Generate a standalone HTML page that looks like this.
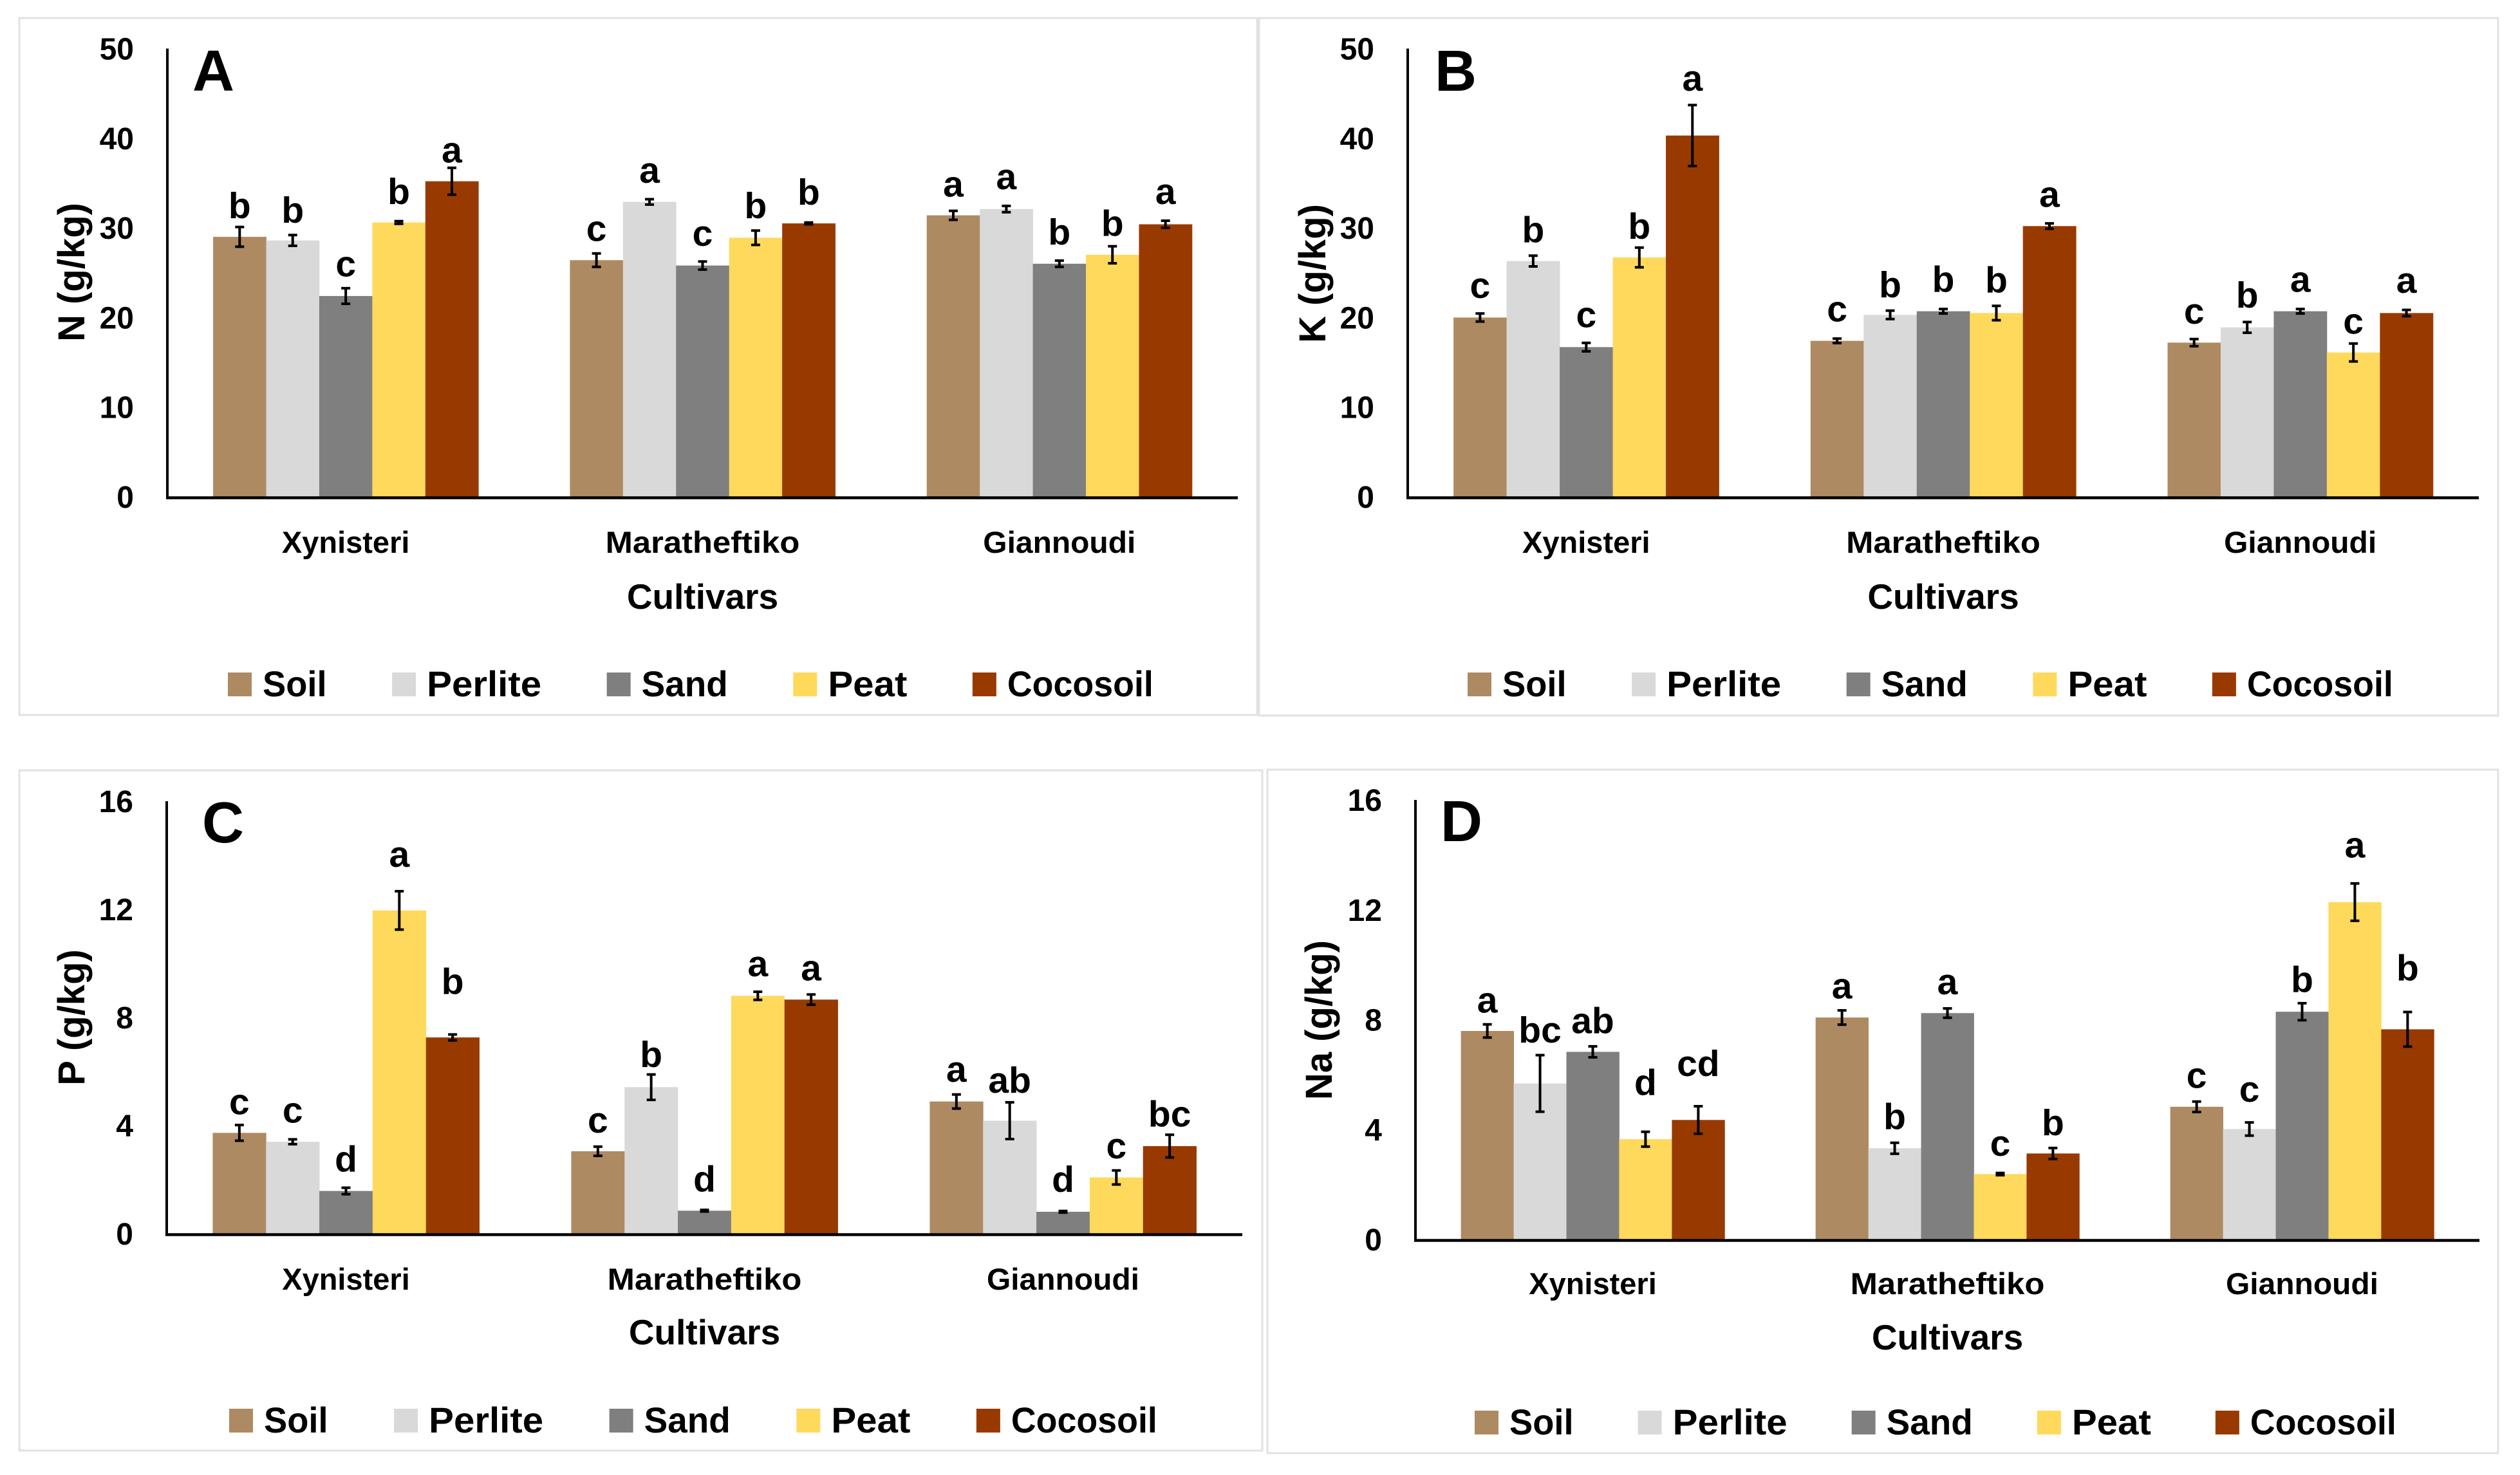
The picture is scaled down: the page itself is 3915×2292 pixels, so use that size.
<!DOCTYPE html>
<html lang="en">
<head>
<meta charset="utf-8">
<title>Mineral content by cultivar and substrate</title>
<style>
  html, body { margin: 0; padding: 0; background: #ffffff; }
  body { width: 3915px; height: 2292px; overflow: hidden; }
  svg { display: block; }
  text { font-family: "Liberation Sans", sans-serif; font-weight: 700; fill: #000; }
</style>
</head>
<body>
<svg id="figure" xmlns="http://www.w3.org/2000/svg" width="3915" height="2292" viewBox="0 0 3915 2292"></svg>
<script>
const categories = ['Xynisteri', 'Maratheftiko', 'Giannoudi'];
const substrates = ['Soil', 'Perlite', 'Sand', 'Peat', 'Cocosoil'];

const ticksNK = [0, 10, 20, 30, 40, 50];
const ticksPNa = [0, 4, 8, 12, 16];

const nMeans = [[29, 28.6, 22.4, 30.6, 35.2], [26.4, 32.9, 25.8, 28.9, 30.5], [31.4, 32.1, 26, 27, 30.4]];
const nErrors = [[1.1, 0.6, 0.87, 0.15, 1.5], [0.75, 0.3, 0.45, 0.8, 0.1], [0.5, 0.35, 0.35, 0.95, 0.4]];
const nLetters = [['b', 'b', 'c', 'b', 'a'], ['c', 'a', 'c', 'b', 'b'], ['a', 'a', 'b', 'b', 'a']];
const nLetterLift = [[1, 1.37, 1.3, 1.9, 0.58], [1.4, 1.85, 1.75, 1.4, 2], [1.6, 1.85, 1.8, 1.15, 1.85]];

const kMeans = [[20, 26.3, 16.7, 26.7, 40.3], [17.4, 20.3, 20.7, 20.5, 30.2], [17.2, 18.9, 20.7, 16.1, 20.5]];
const kErrors = [[0.45, 0.6, 0.47, 1.1, 3.4], [0.25, 0.47, 0.25, 0.8, 0.3], [0.4, 0.6, 0.25, 1, 0.35]];
const kLetters = [['c', 'b', 'c', 'b', 'a'], ['c', 'b', 'b', 'b', 'a'], ['c', 'b', 'a', 'c', 'a']];
const kLetterLift = [[1.75, 1.5, 1.75, 1, 1.6], [1.9, 1.5, 1.9, 1.5, 1.85], [1.7, 1.6, 1.9, 1.1, 1.9]];

const pMeans = [[3.73, 3.4, 1.58, 11.96, 7.26], [3.05, 5.42, 0.85, 8.8, 8.66], [4.89, 4.18, 0.81, 2.08, 3.24]];
const pErrors = [[0.29, 0.09, 0.12, 0.71, 0.11], [0.17, 0.47, 0.03, 0.15, 0.19], [0.26, 0.68, 0.03, 0.26, 0.42]];
const pLetters = [['c', 'c', 'd', 'a', 'b'], ['c', 'b', 'd', 'a', 'a'], ['a', 'ab', 'd', 'c', 'bc']];
const pLetterLift = [[0.4, 0.62, 0.6, 0.9, 1.5], [0.52, 0.28, 0.68, 0.57, 0.52], [0.47, 0.35, 0.71, 0.45, 0.3]];

const naMeans = [[7.59, 5.68, 6.83, 3.65, 4.35], [8.08, 3.32, 8.24, 2.38, 3.13], [4.83, 4.02, 8.29, 12.28, 7.65]];
const naErrors = [[0.24, 1.03, 0.2, 0.27, 0.5], [0.26, 0.2, 0.17, 0.04, 0.2], [0.19, 0.24, 0.31, 0.68, 0.63]];
const naLetters = [['a', 'bc', 'ab', 'd', 'cd'], ['a', 'b', 'a', 'c', 'b'], ['c', 'c', 'b', 'a', 'b']];
const naLetterLift = [[0.43, 0.46, 0.48, 1.34, 1.1], [0.43, 0.5, 0.51, 0.62, 0.46], [0.5, 0.75, 0.41, 0.94, 1.15]];

const substrateColors = ['#AE8A62', '#D9D9D9', '#7F7F7F', '#FFD95C', '#983A00'];

const SVG_NS = 'http://www.w3.org/2000/svg';
const svg = document.getElementById('figure');

function make(tag, parent, attrs, content) {
  const node = document.createElementNS(SVG_NS, tag);
  for (const key in attrs) node.setAttribute(key, attrs[key]);
  if (content !== undefined) node.textContent = content;
  parent.appendChild(node);
  return node;
}

function slug(s) {
  return s.toLowerCase().replace(/[^a-z0-9]+/g, '-').replace(/^-|-$/g, '');
}

function stretchText(node, factor) {
  const width = node.getComputedTextLength() * factor;
  node.setAttribute('textLength', width);
  node.setAttribute('lengthAdjust', 'spacingAndGlyphs');
  return width;
}

function drawPanel(cfg) {
  const panel = make('g', svg, {});
  
  

  const frame = make('rect', panel, { x: cfg.frame[0], y: cfg.frame[1], width: cfg.frame[2] - cfg.frame[0], height: cfg.frame[3] - cfg.frame[1], fill: '#fff', stroke: '#E2E2E2', 'stroke-width': 3 });
  
  

  const yMax = cfg.ticks[cfg.ticks.length - 1];
  const yScale = v => cfg.baseY - (v / yMax) * (cfg.baseY - cfg.topY);
  const band = (cfg.rightX - cfg.axisX) / categories.length;
  const barW = band * 0.1487;
  const xCenter = c => cfg.axisX + (c + 0.5) * band;
  const barX = (c, s) => xCenter(c) + (s - substrates.length / 2) * barW;

  cfg.ticks.forEach(t => {
    const tick = make('text', panel, { x: cfg.axisX - 52, y: yScale(t) + 17, 'text-anchor': 'end', 'font-size': 48 }, String(t));
    
    
  });

  const yTitle = make('text', panel, { transform: 'translate(' + cfg.titleX + ',' + cfg.titleY + ') rotate(-90)', 'text-anchor': 'middle', 'font-size': 58 }, cfg.yLabel);
  
  

  const tag = make('text', panel, { x: cfg.tagX, y: cfg.tagY, 'font-size': 90 }, cfg.letter);
  
  

  categories.forEach((cat, c) => {
    substrates.forEach((sub, s) => {
      const v = cfg.means[c][s];
      const e = cfg.errors[c][s];
      const top = yScale(v);
      const bar = make('rect', panel, { x: barX(c, s), y: top, width: barW + 0.4, height: cfg.baseY - top, fill: substrateColors[s] });
      
      

      const cx = barX(c, s) + barW / 2;
      const hi = yScale(v + e);
      const lo = yScale(v - e);
      const stem = make('line', panel, { x1: cx, x2: cx, y1: hi, y2: lo, stroke: '#000', 'stroke-width': 4 });
      
      
      const capTop = make('line', panel, { x1: cx - 7, x2: cx + 7, y1: hi, y2: hi, stroke: '#000', 'stroke-width': 4 });
      
      
      const capBottom = make('line', panel, { x1: cx - 7, x2: cx + 7, y1: lo, y2: lo, stroke: '#000', 'stroke-width': 4 });
      
      

      const sig = make('text', panel, { x: cx, y: yScale(v + e + cfg.lift[c][s]), 'text-anchor': 'middle', 'font-size': 57 }, cfg.letters[c][s]);
      
      
    });

    const catLabel = make('text', panel, { x: xCenter(c), y: cfg.baseY + cfg.catOffset, 'text-anchor': 'middle', 'font-size': 47 }, cat);
    
    
    stretchText(catLabel, [1, 1.08, 1.02][c]);
  });

  const yAxis = make('line', panel, { x1: cfg.axisX, x2: cfg.axisX, y1: cfg.topY, y2: cfg.baseY + 2, stroke: '#000', 'stroke-width': 4 });
  
  
  const xAxis = make('line', panel, { x1: cfg.axisX - 2, x2: cfg.rightX, y1: cfg.baseY + 1.5, y2: cfg.baseY + 1.5, stroke: '#000', 'stroke-width': 4.5 });
  
  

  const xTitle = make('text', panel, { x: (cfg.axisX + cfg.rightX) / 2, y: cfg.baseY + cfg.titleOffset, 'text-anchor': 'middle', 'font-size': 55 }, 'Cultivars');
  
  

  let lx = cfg.legendX;
  substrates.forEach((sub, s) => {
    const entry = make('g', panel, {});
    
    
    const swatch = make('rect', entry, { x: lx, y: cfg.legendY - 37, width: 37, height: 37, fill: substrateColors[s] });
    
    
    const label = make('text', entry, { x: lx + 54, y: cfg.legendY, 'font-size': 56 }, sub);
    
    
    lx += 54 + stretchText(label, [0.97, 1.04, 0.98, 1.04, 0.96][s]) + cfg.legendGap;
  });
}

drawPanel({ letter: 'A', yLabel: 'N (g/kg)', ticks: ticksNK, means: nMeans, errors: nErrors, letters: nLetters, lift: nLetterLift,
  frame: [30, 28, 1953, 1111], axisX: 260, rightX: 1923, topY: 75.5, baseY: 772, catOffset: 87, titleOffset: 174, titleX: 131, titleY: 423, tagX: 299, tagY: 141, legendX: 354, legendY: 1082, legendGap: 101.5 });
drawPanel({ letter: 'B', yLabel: 'K (g/kg)', ticks: ticksNK, means: kMeans, errors: kErrors, letters: kLetters, lift: kLetterLift,
  frame: [1956, 28, 3881, 1112], axisX: 2187, rightX: 3851, topY: 75.5, baseY: 772, catOffset: 87, titleOffset: 174, titleX: 2059, titleY: 425, tagX: 2229, tagY: 141, legendX: 2280, legendY: 1082, legendGap: 101.5 });
drawPanel({ letter: 'C', yLabel: 'P (g/kg)', ticks: ticksPNa, means: pMeans, errors: pErrors, letters: pLetters, lift: pLetterLift,
  frame: [30, 1197, 1961, 2254], axisX: 259, rightX: 1930, topY: 1245, baseY: 1917, catOffset: 87, titleOffset: 172, titleX: 131, titleY: 1581, tagX: 314, tagY: 1309, legendX: 356, legendY: 2226, legendGap: 102.5 });
drawPanel({ letter: 'D', yLabel: 'Na (g/kg)', ticks: ticksPNa, means: naMeans, errors: naErrors, letters: naLetters, lift: naLetterLift,
  frame: [1969, 1196, 3881, 2258], axisX: 2199, rightX: 3852, topY: 1243, baseY: 1926, catOffset: 85, titleOffset: 171, titleX: 2069, titleY: 1585, tagX: 2238, tagY: 1307, legendX: 2291, legendY: 2229, legendGap: 100 });
</script>
</body>
</html>
